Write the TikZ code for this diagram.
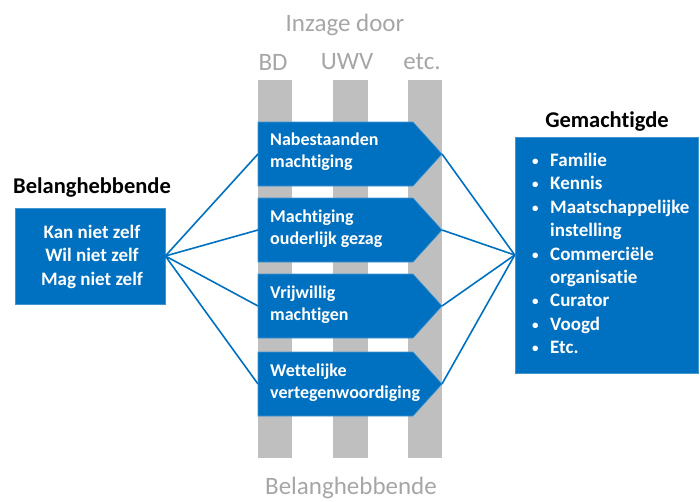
\documentclass[tikz,border=0pt]{standalone}
\usepackage{fontspec}
\setmainfont[Ligatures=NoCommon]{Carlito}
\definecolor{mblue}{RGB}{0,112,192}
\definecolor{mgray}{RGB}{191,191,191}
\definecolor{tgray}{RGB}{166,166,166}
\newcommand{\bul}{\makebox[20pt][l]{\hspace{2pt}\raisebox{1pt}{\fontsize{13}{13}\selectfont•}}}
\begin{document}
\begin{tikzpicture}[x=1pt,y=-1pt,
  bar/.style={fill=mgray, draw=none},
  pent/.style={fill=mblue, draw=mblue!75!white, line width=0.6pt},
  wtxt/.style={text=white, font=\bfseries\fontsize{18}{22}\selectfont, align=left, anchor=west, inner sep=0pt},
  bbox/.style={fill=mblue, draw=mblue!75!white, line width=0.6pt, inner sep=0pt},
  title/.style={text=black, font=\bfseries\fontsize{22.5}{26}\selectfont, inner sep=0pt},
  link/.style={draw=mblue, line width=1.6pt},
  glabel/.style={text=tgray, font=\fontsize{25}{29}\selectfont, inner sep=0pt}]
\useasboundingbox (0,0) rectangle (700,501);
% gray bars
\fill[bar] (258,80) rectangle (292,458);
\fill[bar] (333,80) rectangle (368,458);
\fill[bar] (408,80) rectangle (442,458);
% gray labels
\node[glabel] (inz) at (345,25) {Inzage door};
\node[glabel] (bd) at (273,62) {BD};
\node[glabel] (uwv) at (347,62) {UWV};
\node[glabel] (etc) at (422,62) {etc.};
\node[glabel] (belb) at (351,488) {Belanghebbende};
% pentagons
\foreach \t/\n in {122/1,198/2,274/3,352/4}{
  \path[pent] (258,\t) -- (413,\t) -- (442,\t+32) -- (413,\t+64) -- (258,\t+64) -- cycle;
  \coordinate (p\n w) at (258,\t+32);
  \coordinate (p\n e) at (442,\t+32);
}
\node[wtxt] (t1) at (270,152) {Nabestaanden\\machtiging};
\node[wtxt] (t2) at (270,229) {Machtiging\\ouderlijk gezag};
\node[wtxt] (t3) at (270,305) {Vrijwillig\\machtigen};
\node[wtxt] (t4) at (270,383) {Wettelijke\\vertegenwoordiging};
% left box
\node[title] (belt) at (92,188) {Belanghebbende};
\node[bbox, minimum width=150pt, minimum height=96pt] (bel) at (90,256) {};
\node[wtxt, font=\bfseries\fontsize{19}{23.5}\selectfont, anchor=center, align=center] (beltxt) at (92,256.5) {Kan niet zelf\\Wil niet zelf\\Mag niet zelf};
% right box
\node[title] (gemt) at (607,122) {Gemachtigde};
\node[bbox, minimum width=183pt, minimum height=236pt] (gem) at (606.5,255) {};
\node[text=white, font=\bfseries\fontsize{19}{23.4}\selectfont, align=left, anchor=north west, inner sep=0pt] (list) at (530,153)
 {\bul Familie\\
  \bul Kennis\\
  \bul Maatschappelijke\\
  \hspace*{20pt}instelling\\
  \bul Commerciële\\
  \hspace*{20pt}organisatie\\
  \bul Curator\\
  \bul Voogd\\
  \bul Etc.};
% connectors
\foreach \n in {1,2,3,4}{
  \draw[link] (bel.east) -- (p\n w);
  \draw[link] (p\n e) -- (gem.west);
}
\end{tikzpicture}
\end{document}
